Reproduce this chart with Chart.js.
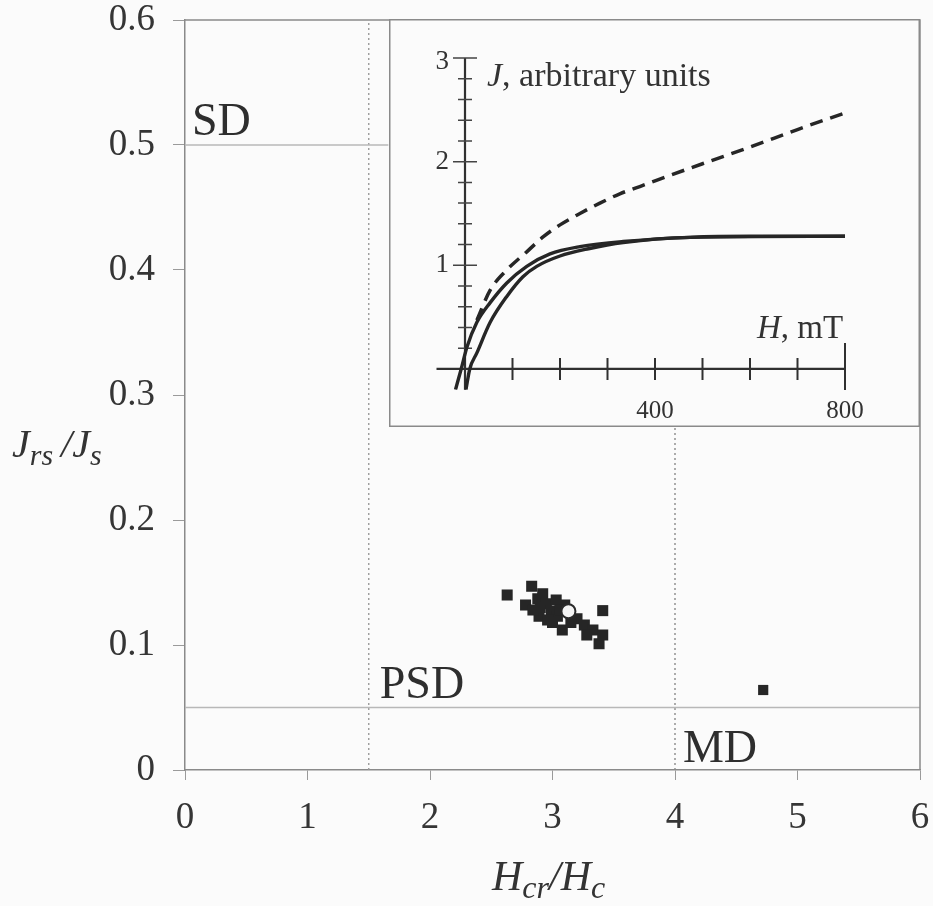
<!DOCTYPE html>
<html>
<head>
<meta charset="utf-8">
<script src="https://cdn.jsdelivr.net/npm/chart.js@4.4.1/dist/chart.umd.min.js"></script>
<style>
  html, body { margin: 0; padding: 0; background: #fbfbfb; }
  #wrap { position: relative; width: 933px; height: 906px; }
  #main { position: absolute; left: 0; top: 0; }
  #inset { position: absolute; left: 389px; top: 19px; }
</style>
</head>
<body>
<div id="wrap">
  <canvas id="main" width="933" height="906"></canvas>
  <canvas id="inset" width="531" height="408"></canvas>
</div>
<script>
// Main diagram: Hcr/Hc vs Jrs/Js
const xTicks = [0, 1, 2, 3, 4, 5, 6];
const yTicks = [0, 0.1, 0.2, 0.3, 0.4, 0.5, 0.6];

const clusterX = [2.63, 2.83, 2.78, 2.88, 2.92, 2.95, 2.89, 2.99, 3.03, 3.04, 3.08, 3.10, 3.20, 3.26, 3.33, 3.38, 3.41, 3.41, 2.84, 2.96, 2.90, 3.00, 3.06, 3.15, 3.28];
const clusterY = [0.140, 0.147, 0.132, 0.137, 0.141, 0.133, 0.123, 0.127, 0.136, 0.123, 0.112, 0.132, 0.121, 0.116, 0.112, 0.101, 0.108, 0.1275, 0.128, 0.120, 0.130, 0.118, 0.128, 0.118, 0.108];
const outlierX = [4.72];
const outlierY = [0.064];
const meanX = [3.13];
const meanY = [0.127];

// domain boundaries
const sdLineX = [0, 1.66];
const sdLineY = [0.5, 0.5];
const mdLineX = [0, 6];
const mdLineY = [0.05, 0.05];
const psdLeftX = [1.5, 1.5];
const psdLeftY = [0, 0.6];
const psdRightX = [4, 4];
const psdRightY = [0, 0.6];

const zoneNames = ["SD", "PSD", "MD"];
const zoneAnchorX = [0.057, 1.59, 4.065];
const zoneAnchorY = [0.508, 0.0576, 0.0064];

// Inset: J(H) curves
const insetLabelsH = [400, 800];
const insetLabelsJ = [1, 2, 3];
const upperH = [-20, -8, 4, 25, 53, 88, 130, 179, 242, 333, 474, 600, 800];
const upperJ = [-0.2, 0, 0.21, 0.45, 0.64, 0.83, 0.99, 1.11, 1.18, 1.23, 1.27, 1.28, 1.28];
const lowerH = [2, 10, 25, 53, 88, 122, 151, 200, 260, 333, 474, 800];
const lowerJ = [-0.2, 0, 0.155, 0.45, 0.70, 0.89, 0.99, 1.09, 1.16, 1.22, 1.27, 1.28];
const dashH = [25, 53, 88, 130, 165, 200, 242, 284, 326, 368, 403, 500, 600, 700, 800];
const dashJ = [0.47, 0.76, 0.955, 1.13, 1.276, 1.39, 1.50, 1.60, 1.69, 1.76, 1.82, 1.98, 2.14, 2.31, 2.47];

const SERIF = "'Liberation Serif', 'DejaVu Serif', serif";
const toPts = (xs, ys) => xs.map((x, i) => ({ x: x, y: ys[i] }));

function guide(xs, ys, color, dash) {
  return {
    type: "line",
    data: toPts(xs, ys),
    showLine: true,
    borderColor: color,
    borderWidth: 1.4,
    borderDash: dash,
    pointRadius: 0,
    order: 5,
  };
}

// draws text pieces with subscripts, starting at x
function drawSub(ctx, parts, x, y) {
  parts.forEach((p) => {
    ctx.font = (p.italic ? "italic " : "") + p.size + "px " + SERIF;
    ctx.fillText(p.t, x, y + (p.dy || 0));
    x += ctx.measureText(p.t).width + (p.gap || 0);
  });
}

const mainDecor = {
  id: "mainDecor",
  beforeDraw(chart) {
    const ctx = chart.ctx;
    ctx.save();
    ctx.fillStyle = "#fbfbfb";
    ctx.fillRect(0, 0, chart.width, chart.height);
    ctx.restore();
  },
  afterDraw(chart) {
    const ctx = chart.ctx;
    const a = chart.chartArea;
    const xs = chart.scales.x, ys = chart.scales.y;
    ctx.save();
    // frame top and right
    ctx.strokeStyle = "#8a8a8a";
    ctx.lineWidth = 1.5;
    ctx.beginPath();
    ctx.moveTo(a.left, a.top);
    ctx.lineTo(a.right, a.top);
    ctx.lineTo(a.right, a.bottom);
    ctx.stroke();

    // domain names
    ctx.fillStyle = "#2e2e2e";
    ctx.font = "46px " + SERIF;
    ctx.textBaseline = "alphabetic";
    zoneNames.forEach((n, i) => {
      ctx.fillText(n, xs.getPixelForValue(zoneAnchorX[i]), ys.getPixelForValue(zoneAnchorY[i]));
    });

    // axis titles
    ctx.fillStyle = "#333";
    drawSub(ctx, [
      { t: "J", size: 40, italic: true },
      { t: "rs", size: 30, italic: true, dy: 8, gap: 8 },
      { t: "/", size: 40, italic: true },
      { t: "J", size: 40, italic: true },
      { t: "s", size: 30, italic: true, dy: 8 },
    ], 12, 457);
    drawSub(ctx, [
      { t: "H", size: 42, italic: true },
      { t: "cr", size: 32, italic: true, dy: 8 },
      { t: "/", size: 42, italic: true },
      { t: "H", size: 42, italic: true },
      { t: "c", size: 32, italic: true, dy: 8 },
    ], 492, 890);
    ctx.restore();
  },
};

new Chart(document.getElementById("main"), {
  type: "scatter",
  data: {
    datasets: [
      {
        data: toPts(meanX, meanY),
        pointStyle: "circle",
        pointRadius: 7,
        backgroundColor: "#f4f4f4",
        borderColor: "#2a2a2a",
        borderWidth: 2,
        order: 0,
      },
      {
        data: toPts(clusterX, clusterY),
        pointStyle: "rect",
        pointRadius: 7.8,
        backgroundColor: "#262626",
        borderWidth: 0,
        order: 1,
      },
      {
        data: toPts(outlierX, outlierY),
        pointStyle: "rect",
        pointRadius: 7.2,
        backgroundColor: "#262626",
        borderWidth: 0,
        order: 1,
      },
      guide(sdLineX, sdLineY, "#b8b8b8", []),
      guide(mdLineX, mdLineY, "#b8b8b8", []),
      guide(psdLeftX, psdLeftY, "#9a9a9a", [2, 3]),
      guide(psdRightX, psdRightY, "#8a8a8a", [2, 3]),
    ],
  },
  options: {
    responsive: false,
    animation: false,
    events: [],
    layout: { padding: { left: 0, top: 20, right: 13, bottom: 0 } },
    plugins: { legend: { display: false }, tooltip: { enabled: false } },
    scales: {
      x: {
        type: "linear",
        min: 0,
        max: 6,
        afterFit: (s) => {
          s.height = 136;
          s.paddingLeft = 0;
          s.paddingRight = 0;
        },
        afterBuildTicks: (s) => { s.ticks = xTicks.map((v) => ({ value: v })); },
        ticks: {
          font: { family: SERIF, size: 37 },
          color: "#353535",
          padding: 16,
          callback: (v) => String(v),
        },
        grid: { drawOnChartArea: false, drawTicks: true, tickLength: 10, color: "#9a9a9a" },
        border: { color: "#8a8a8a", width: 1.5 },
      },
      y: {
        type: "linear",
        min: 0,
        max: 0.6,
        afterFit: (s) => {
          s.width = 185;
          s.paddingTop = 0;
          s.paddingBottom = 0;
        },
        afterBuildTicks: (s) => { s.ticks = yTicks.map((v) => ({ value: v })); },
        ticks: {
          font: { family: SERIF, size: 37 },
          color: "#353535",
          padding: 18,
          callback: (v) => (v === 0 ? "0" : v.toFixed(1)),
        },
        grid: { drawOnChartArea: false, drawTicks: true, tickLength: 12, color: "#9a9a9a" },
        border: { color: "#8a8a8a", width: 1.5 },
      },
    },
  },
  plugins: [mainDecor],
});

// inset chart with axes crossing at the origin
const insetDecor = {
  id: "insetDecor",
  beforeDraw(chart) {
    const ctx = chart.ctx;
    ctx.save();
    ctx.fillStyle = "#fbfbfb";
    ctx.fillRect(0, 0, chart.width, chart.height);
    ctx.restore();
  },
  beforeDatasetsDraw(chart) {
    const ctx = chart.ctx;
    const xs = chart.scales.x, ys = chart.scales.y;
    const x0 = xs.getPixelForValue(0), y0 = ys.getPixelForValue(0);
    ctx.save();
    ctx.strokeStyle = "#303030";
    ctx.lineWidth = 2.2;
    ctx.beginPath();
    // H axis
    ctx.moveTo(xs.getPixelForValue(-60), y0);
    ctx.lineTo(xs.getPixelForValue(800), y0);
    // J axis
    ctx.moveTo(x0, ys.getPixelForValue(-0.2));
    ctx.lineTo(x0, ys.getPixelForValue(3));
    ctx.stroke();

    ctx.lineWidth = 2;
    ctx.beginPath();
    for (let h = 100; h < 800; h += 100) {
      const px = xs.getPixelForValue(h);
      ctx.moveTo(px, y0 - 11);
      ctx.lineTo(px, y0 + 11);
    }
    const pEnd = xs.getPixelForValue(800);
    ctx.moveTo(pEnd, y0 - 26);
    ctx.lineTo(pEnd, y0 + 21);
    ctx.stroke();

    ctx.lineWidth = 1.5;
    ctx.strokeStyle = "#444";
    ctx.beginPath();
    for (let k = 1; k <= 15; k++) {
      const j = k * 0.2;
      const py = ys.getPixelForValue(j);
      const len = k % 5 === 0 ? 12 : 7;
      ctx.moveTo(x0 - len, py);
      ctx.lineTo(x0 + len, py);
    }
    ctx.stroke();
    ctx.restore();
  },
  afterDraw(chart) {
    const ctx = chart.ctx;
    const xs = chart.scales.x, ys = chart.scales.y;
    const x0 = xs.getPixelForValue(0), y0 = ys.getPixelForValue(0);
    ctx.save();
    ctx.fillStyle = "#333";
    ctx.font = "27px " + SERIF;
    ctx.textAlign = "right";
    ctx.textBaseline = "middle";
    insetLabelsJ.forEach((j) => {
      ctx.fillText(String(j), x0 - 16, ys.getPixelForValue(j) + (j === 3 ? 4 : 0));
    });
    ctx.font = "25px " + SERIF;
    ctx.textAlign = "center";
    insetLabelsH.forEach((h) => {
      ctx.fillText(String(h), xs.getPixelForValue(h), y0 + 42);
    });

    ctx.textAlign = "left";
    ctx.textBaseline = "alphabetic";
    drawSub(ctx, [
      { t: "J", size: 34, italic: true },
      { t: ", arbitrary units", size: 34 },
    ], x0 + 22, ys.getPixelForValue(3) + 28);
    const hx = xs.getPixelForValue(800) - 88;
    drawSub(ctx, [
      { t: "H", size: 33, italic: true },
      { t: ", mT", size: 33 },
    ], hx, y0 - 31);

    // box
    ctx.strokeStyle = "#8a8a8a";
    ctx.lineWidth = 1.5;
    ctx.strokeRect(0.75, 0.75, chart.width - 1.5, chart.height - 1.5);
    ctx.restore();
  },
};

new Chart(document.getElementById("inset"), {
  type: "scatter",
  data: {
    datasets: [
      {
        data: toPts(upperH, upperJ),
        showLine: true,
        borderColor: "#262626",
        borderWidth: 3.4,
        pointRadius: 0,
        cubicInterpolationMode: "monotone",
      },
      {
        data: toPts(lowerH, lowerJ),
        showLine: true,
        borderColor: "#262626",
        borderWidth: 3.4,
        pointRadius: 0,
        cubicInterpolationMode: "monotone",
      },
      {
        data: toPts(dashH, dashJ),
        showLine: true,
        borderColor: "#262626",
        borderWidth: 3.5,
        borderDash: [13, 8],
        pointRadius: 0,
        cubicInterpolationMode: "monotone",
      },
    ],
  },
  options: {
    responsive: false,
    animation: false,
    events: [],
    layout: { padding: { left: 47.5, right: 75, top: 39, bottom: 37.3 } },
    plugins: { legend: { display: false }, tooltip: { enabled: false } },
    scales: {
      x: { type: "linear", min: -60, max: 800, display: false },
      y: { type: "linear", min: -0.2, max: 3, display: false },
    },
  },
  plugins: [insetDecor],
});
</script>
</body>
</html>
